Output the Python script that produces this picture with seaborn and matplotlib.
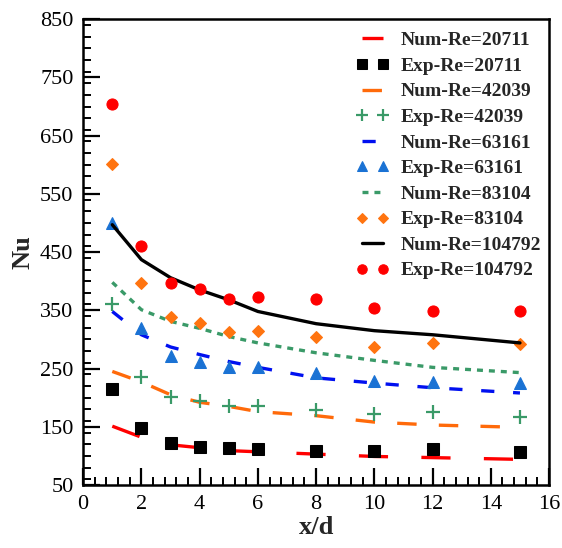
import numpy as np
import pandas as pd
import matplotlib
matplotlib.use("Agg")
import matplotlib.pyplot as plt
from matplotlib.ticker import MultipleLocator
import seaborn as sns

sns.set_theme(style="white")
plt.rcParams["font.family"] = ["Liberation Serif", "DejaVu Serif"]
plt.rcParams["lines.scale_dashes"] = False

x_d = [1, 2, 3, 4, 5, 6, 8, 10, 12, 15]

num_20711 = [151, 132, 119, 114, 109, 107, 103, 99, 97, 94]
exp_20711 = [215, 148, 122, 116, 113, 112, 109, 109, 111, 107]
num_42039 = [245, 227, 205, 192, 185, 176, 169, 158, 153, 149]
exp_42039 = [360, 236, 201, 195, 186, 185, 178, 172, 176, 167]
num_63161 = [348, 308, 287, 274, 262, 252, 234, 225, 217, 208]
exp_63161 = [500, 320, 272, 262, 252, 253, 242, 229, 227, 225]
num_83104 = [398, 351, 331, 319, 305, 294, 277, 264, 252, 243]
exp_83104 = [602, 397, 339, 329, 312, 314, 305, 287, 294, 292]
num_104792 = [497, 437, 406, 385, 368, 348, 327, 315, 308, 294]
exp_104792 = [705, 461, 397, 386, 370, 373, 370, 354, 348, 348]

series = [
    ("Num-Re=20711", num_20711, dict(color="#ff0000", dashes=(21, 24))),
    ("Exp-Re=20711", exp_20711, dict(color="black", marker="s", markersize=8)),
    ("Num-Re=42039", num_42039, dict(color="#ff6a0a", dashes=(14, 16))),
    ("Exp-Re=42039", exp_42039, dict(color="#3a9a68", marker="+", markersize=10,
                                      markeredgewidth=1.6)),
    ("Num-Re=63161", num_63161, dict(color="#0010f0", dashes=(9.5, 13.5))),
    ("Exp-Re=63161", exp_63161, dict(color="#1a72d4", marker="^", markersize=8)),
    ("Num-Re=83104", num_83104, dict(color="#3a9a68", dashes=(4.3, 4.3))),
    ("Exp-Re=83104", exp_83104, dict(color="#ff7410", marker="D", markersize=6.5)),
    ("Num-Re=104792", num_104792, dict(color="black")),
    ("Exp-Re=104792", exp_104792, dict(color="#ff0000", marker="o", markersize=8)),
]

fig = plt.figure(figsize=(5.62, 5.48), dpi=100)
ax = fig.add_axes([0.148, 0.115, 0.829, 0.850])

for label, values, style in series:
    df = pd.DataFrame({"x/d": x_d, "Nu": values})
    style = dict(style)
    dashes = style.pop("dashes", None)
    if "marker" in style:
        sns.lineplot(data=df, x="x/d", y="Nu", ax=ax, label=label,
                     linestyle="", markeredgecolor=style["color"], **style)
    else:
        line_kw = dict(linewidth=2.4, **style)
        if dashes is not None:
            line_kw["dashes"] = dashes
        sns.lineplot(data=df, x="x/d", y="Nu", ax=ax, label=label, **line_kw)

ax.set_xlim(0, 16)
ax.set_ylim(50, 850)
ax.xaxis.set_major_locator(MultipleLocator(2))
ax.xaxis.set_minor_locator(MultipleLocator(0.4))
ax.set_yticks(np.arange(50, 851, 100))
ax.yaxis.set_minor_locator(MultipleLocator(20))

ax.tick_params(which="major", direction="in", length=12, width=1.6,
               labelsize=16, color="black", labelcolor="black",
               top=False, right=False, left=True, bottom=True, pad=7)
ax.tick_params(which="minor", direction="in", length=6, width=1.4,
               color="black", top=False, right=False, left=True, bottom=True)
for side in ["left", "bottom", "right", "top"]:
    ax.spines[side].set_visible(True)
    ax.spines[side].set_color("black")
    ax.spines[side].set_linewidth(1.8)

ax.set_xlabel("x/d", fontsize=19, fontweight="bold", labelpad=2)
ax.set_ylabel("Nu", fontsize=19, fontweight="bold", labelpad=4)

leg = ax.legend(loc="upper right", bbox_to_anchor=(1.0, 0.99), frameon=False,
                numpoints=2, handlelength=1.7, handletextpad=0.6,
                labelspacing=0.41, borderaxespad=0.0, markerscale=0.85,
                prop={"family": "Liberation Serif", "weight": "bold", "size": 14})

fig.savefig("out.png", dpi=100)
